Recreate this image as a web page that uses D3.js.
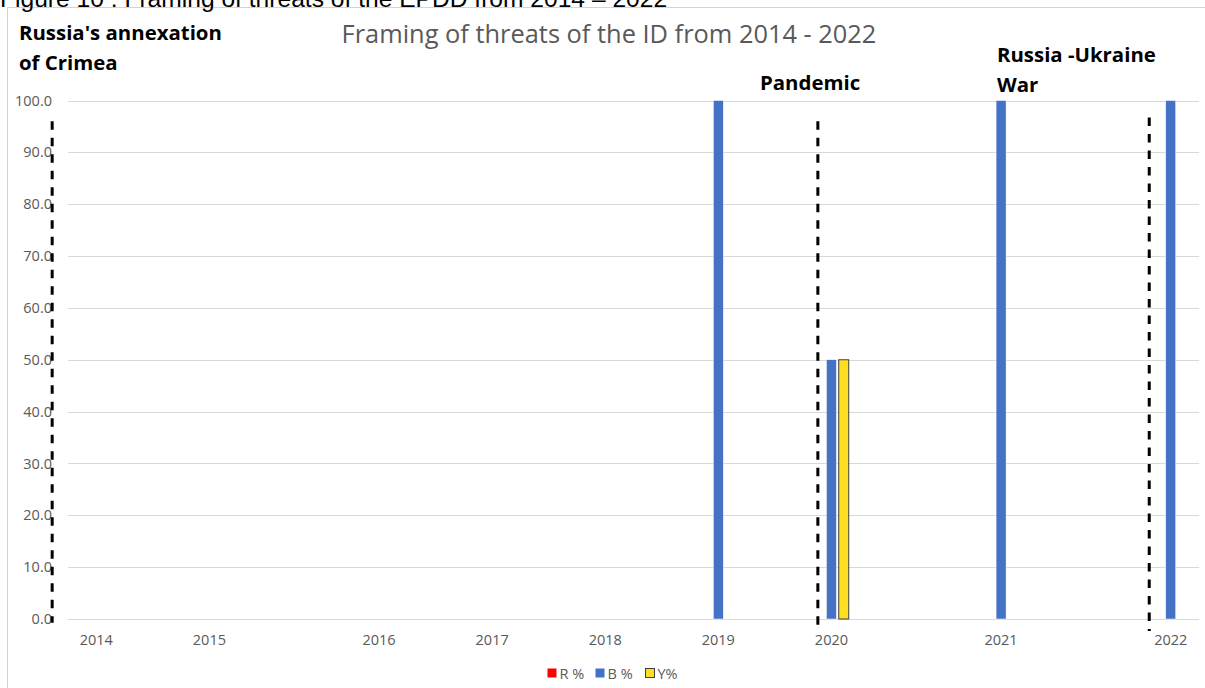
<head>
    <meta charset="utf-8">
    <style> body { margin: 0; background: #fff; } svg { display: block; } </style>
    <script src="https://cdnjs.cloudflare.com/ajax/libs/d3/7.8.5/d3.min.js"></script>
</head>
<body>
<div id="chart"></div>
<script>

    // category slots (blank ones are empty columns in the sheet)
    var categories = ["2014", "", "2015", "", "", "2016", "", "2017", "", "2018", "", "2019", "", "2020", "", "", "2021", "", "", "2022"];
    var seriesNames = ["R %", "B %", "Y%"];
    var rValues = [0, null, 0, null, null, 0, null, 0, null, 0, null, 0, null, 0, null, null, 0, null, null, 0];
    var bValues = [0, null, 0, null, null, 0, null, 0, null, 0, null, 100, null, 50, null, null, 100, null, null, 100];
    var yValues = [0, null, 0, null, null, 0, null, 0, null, 0, null, 0, null, 50, null, null, 0, null, null, 0];
    var yTicks = [0, 10, 20, 30, 40, 50, 60, 70, 80, 90, 100];

    // event markers: slot position (in category units) and vertical extent (in %)
    var eventPos = [-0.78, 13.26 - 0.5, 19.12 - 0.5];
    var eventTop = [96, 96, 96.7];
    var eventBottom = [-0.7, -2.3, -2.3];

    var W = 1205, H = 688;
    var margin = {left: 68, right: 6, top: 100.5, bottom: 69};

    var colors = {"R %": "#ff0000", "B %": "#4472c4", "Y%": "#ffdd22"};

    var svg = d3.select("#chart").append("svg")
        .attr("width", W)
        .attr("height", H);

    // chart frame, runs off the page on the right and bottom
    svg.append("rect")
        .attr("x", 7.5).attr("y", 7.5)
        .attr("width", 1400).attr("height", 900)
        .attr("fill", "none")
        .attr("stroke", "#d4d4d4");

    // figure caption above the frame, cut by the page edge as in the source
    svg.append("text")
        .attr("x", 0).attr("y", 6.5)
        .attr("font-family", "Liberation Sans, Arial, sans-serif")
        .attr("font-size", 24.6)
        .attr("fill", "#000")
        .text("Figure 10 : Framing of threats of the EPDD from 2014 \u2013 2022");

    var x = d3.scaleBand()
        .domain(d3.range(categories.length))
        .range([margin.left, W - margin.right])
        .padding(0);

    var bw = x.bandwidth();

    var xSub = d3.scaleBand()
        .domain(seriesNames)
        .range([bw * 0.194, bw * 0.806])
        .paddingInner(0.187);

    // continuous slot scale for the event lines
    var xSlot = d3.scaleLinear()
        .domain([0, categories.length])
        .range([margin.left, W - margin.right]);

    var y = d3.scaleLinear()
        .domain([0, 100])
        .range([H - margin.bottom, margin.top]);

    // gridlines
    svg.append("g")
        .selectAll("line")
        .data(yTicks)
        .join("line")
        .attr("x1", margin.left)
        .attr("x2", W - margin.right)
        .attr("y1", d => Math.round(y(d)) + 0.5)
        .attr("y2", d => Math.round(y(d)) + 0.5)
        .attr("stroke", "#d9d9d9")
        .attr("stroke-width", 1);

    var yx = svg.append("g")
        .attr("class", "ax")
        .attr("transform", "translate(" + (margin.left - 16) + ",0)")
        .call(d3.axisLeft(y).tickValues(yTicks).tickSize(0).tickPadding(0).tickFormat(d3.format(".1f")));

    var xx = svg.append("g")
        .attr("class", "ax")
        .attr("transform", "translate(0," + (H - margin.bottom) + ")")
        .call(d3.axisBottom(x).tickSize(0).tickPadding(16).tickFormat(i => categories[i]));

    svg.selectAll(".ax path").remove();
    svg.selectAll(".ax text")
        .attr("font-family", "Open Sans, sans-serif")
        .attr("font-size", 14.5)
        .attr("fill", "#595959");

    // bars
    var rows = categories.map(function(c, i) {
        return {i: i, "R %": rValues[i], "B %": bValues[i], "Y%": yValues[i]};
    });

    var bars = svg.append("g");
    bars.selectAll("g")
        .data(rows)
        .join("g")
        .attr("transform", d => "translate(" + x(d.i) + ",0)")
        .selectAll("rect")
        .data(d => seriesNames.map(k => ({key: k, value: d[k]})).filter(v => v.value))
        .join("rect")
        .attr("x", d => xSub(d.key))
        .attr("width", xSub.bandwidth())
        .attr("y", d => y(d.value))
        .attr("height", d => y(0) - y(d.value))
        .attr("fill", d => colors[d.key])
        .attr("stroke", d => d.key == "Y%" ? "#404040" : "#ffffff")
        .attr("stroke-width", d => d.key == "Y%" ? 1 : 0.5);

    // dashed event lines
    svg.append("g")
        .selectAll("line")
        .data(eventPos)
        .join("line")
        .attr("x1", d => xSlot(d + 0.5))
        .attr("x2", d => xSlot(d + 0.5))
        .attr("y1", (d, i) => y(eventTop[i]))
        .attr("y2", (d, i) => y(eventBottom[i]))
        .attr("stroke", "#000")
        .attr("stroke-width", 3)
        .attr("stroke-dasharray", "8.5,8");

    // title
    svg.append("text")
        .attr("x", 609).attr("y", 43)
        .attr("text-anchor", "middle")
        .attr("font-family", "Open Sans, sans-serif")
        .attr("font-size", 25.4)
        .attr("fill", "#595959")
        .text("Framing of threats of the ID from 2014 - 2022");

    // event labels
    function label(lines, x0, y0) {
        var t = svg.append("text")
            .attr("font-family", "Open Sans, sans-serif")
            .attr("font-weight", "bold")
            .attr("font-size", 20.4)
            .attr("fill", "#000");
        lines.forEach(function(l, k) {
            t.append("tspan").attr("x", x0).attr("y", y0 + k * 29.7).text(l);
        });
    }
    label(["Russia's annexation", "of Crimea"], 19, 40);
    label(["Pandemic"], 760, 89.5);
    label(["Russia -Ukraine", "War"], 997, 62.3);

    // legend
    var leg = svg.append("g").attr("transform", "translate(547,668)");
    var legX = [0, 48, 98];
    seriesNames.forEach(function(s, k) {
        leg.append("rect")
            .attr("x", legX[k] + 0.5).attr("y", 0.5)
            .attr("width", 9).attr("height", 9)
            .attr("fill", colors[s])
            .attr("stroke", s == "Y%" ? "#404040" : "none");
        leg.append("text")
            .attr("x", legX[k] + 12.5).attr("y", 10.5)
            .attr("font-family", "Open Sans, sans-serif")
            .attr("font-size", 14.5)
            .attr("fill", "#595959")
            .text(s);
    });

</script>
</body>
